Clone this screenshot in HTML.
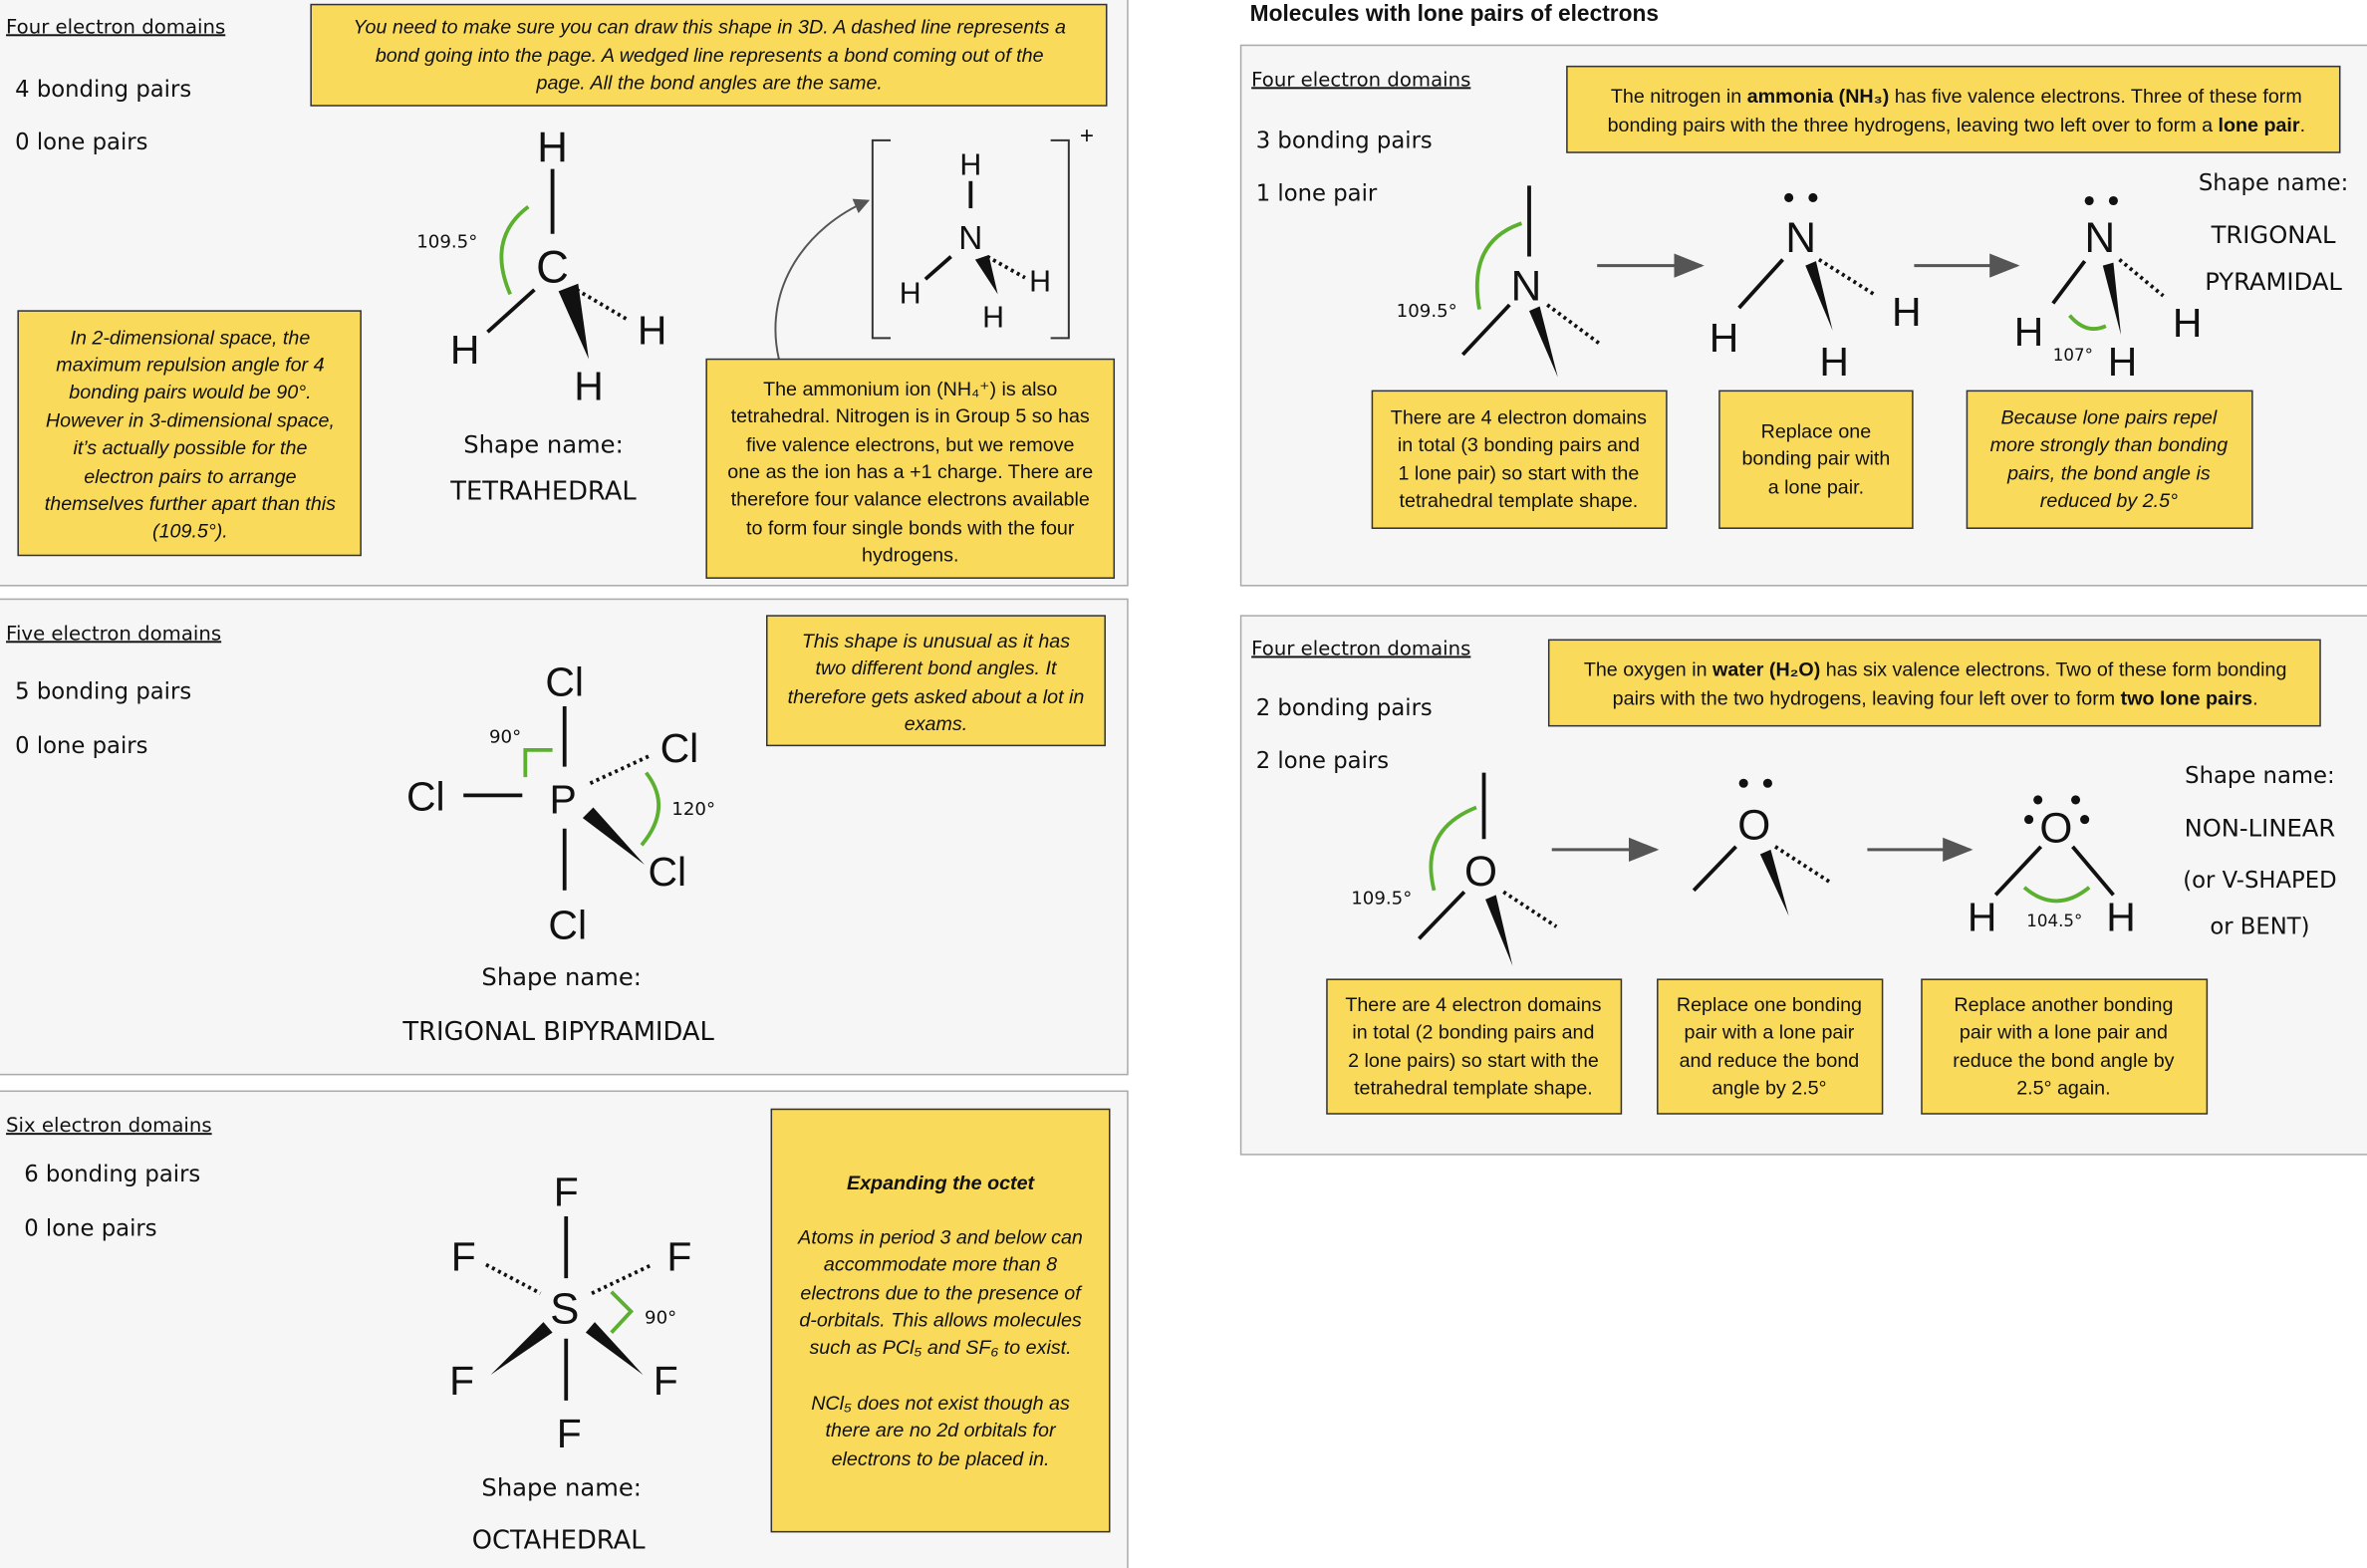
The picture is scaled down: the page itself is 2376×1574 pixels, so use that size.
<!DOCTYPE html>
<html><head><meta charset="utf-8"><style>
html,body{margin:0;padding:0;background:#fff;}
svg{display:block}
.hw{font-family:"DejaVu Sans",sans-serif;font-weight:normal;fill:#111}
.t{font-family:"Liberation Sans",sans-serif;font-size:13px;fill:#111;text-anchor:middle}
.i{font-style:italic}
.at{font-family:"Liberation Sans",sans-serif;fill:#111;text-anchor:middle}
.yb{fill:#f9da5a;stroke:#333;stroke-width:1}
.pn{fill:#f6f6f6;stroke:#aaa;stroke-width:1}
.b{stroke:#111;stroke-width:2.5;fill:none}
.d{stroke:#111;stroke-width:2.5;stroke-dasharray:2 2.5;fill:none}
.g{stroke:#5bb030;stroke-width:2.5;fill:none}
</style></head><body>
<svg width="2376" height="1574" viewBox="0 0 1568 1039" preserveAspectRatio="none" xmlns="http://www.w3.org/2000/svg">
<defs><marker id="ah" markerWidth="10" markerHeight="10" refX="9" refY="5" orient="auto"><path d="M0,1 L10,5 L0,9 z" fill="#555"/></marker>
<marker id="ah2" markerWidth="8" markerHeight="8" refX="7" refY="4" orient="auto"><path d="M0,0 L8,4 L0,8 z" fill="#555"/></marker></defs>
<rect width="1568" height="1039" fill="#fff"/>
<rect class="pn" x="-1" y="-1" width="748" height="389"/>
<rect class="pn" x="-1" y="397" width="748" height="315"/>
<rect class="pn" x="-1" y="723" width="748" height="320"/>
<rect class="pn" x="822" y="30" width="750" height="358"/>
<rect class="pn" x="822" y="408" width="750" height="357"/>
<text x="828" y="14" font-family="Liberation Sans,sans-serif" font-size="15" font-weight="bold" fill="#111">Molecules with lone pairs of electrons</text>

<text class="hw" x="4" y="22" font-size="13" text-decoration="underline">Four electron domains</text>
<text class="hw" x="10" y="64" font-size="15">4 bonding pairs</text>
<text class="hw" x="10" y="99" font-size="15">0 lone pairs</text>
<rect class="yb" x="206" y="3" width="527" height="67"/>
<text class="t i" x="470" y="22">You need to make sure you can draw this shape in 3D. A dashed line represents a</text>
<text class="t i" x="470" y="41">bond going into the page. A wedged line represents a bond coming out of the</text>
<text class="t i" x="470" y="59">page. All the bond angles are the same.</text>
<text class="at" x="366" y="107" font-size="28">H</text>
<line class="b" x1="366" y1="112" x2="366" y2="155"/>
<text class="at" x="366" y="187" font-size="30">C</text>
<line class="b" x1="354" y1="192" x2="323" y2="220"/>
<line class="d" x1="382" y1="192" x2="416" y2="212"/>
<path d="M370,193 L383,188 L390,238 z" fill="#111"/>
<text class="at" x="308" y="241" font-size="27">H</text>
<text class="at" x="432" y="228" font-size="27">H</text>
<text class="at" x="390" y="265" font-size="27">H</text>
<path class="g" d="M350,137 Q322,158 338,195"/>
<text class="hw" x="276" y="164" font-size="12">109.5°</text>
<text class="hw" x="360" y="300" font-size="16" text-anchor="middle">Shape name:</text>
<text class="hw" x="360" y="331" font-size="17" text-anchor="middle">TETRAHEDRAL</text>
<rect class="yb" x="12" y="206" width="227" height="162"/>
<g class="t i">
<text x="126" y="228">In 2-dimensional space, the</text>
<text x="126" y="246">maximum repulsion angle for 4</text>
<text x="126" y="264">bonding pairs would be 90°.</text>
<text x="126" y="283">However in 3-dimensional space,</text>
<text x="126" y="301">it’s actually possible for the</text>
<text x="126" y="320">electron pairs to arrange</text>
<text x="126" y="338">themselves further apart than this</text>
<text x="126" y="356">(109.5°).</text></g>
<path d="M590,93 L578,93 L578,224 L590,224 M696,93 L708,93 L708,224 L696,224" stroke="#333" stroke-width="1.3" fill="none"/>
<text class="at" x="720" y="95" font-size="16">+</text>
<text class="at" x="643" y="116" font-size="20">H</text>
<line class="b" x1="643" y1="120" x2="643" y2="138"/>
<text class="at" x="643" y="165" font-size="22">N</text>
<line class="b" x1="630" y1="170" x2="613" y2="185"/>
<line class="d" x1="654" y1="170" x2="679" y2="184"/>
<path d="M646,172 L655,169 L661,195 z" fill="#111"/>
<text class="at" x="603" y="201" font-size="20">H</text>
<text class="at" x="689" y="193" font-size="20">H</text>
<text class="at" x="658" y="217" font-size="20">H</text>
<path d="M516,238 C505,190 535,150 575,133" stroke="#555" stroke-width="1.3" fill="none" marker-end="url(#ah2)"/>
<rect class="yb" x="468" y="238" width="270" height="145"/>
<g class="t">
<text x="603" y="262">The ammonium ion (NH₄⁺) is also</text>
<text x="603" y="280">tetrahedral. Nitrogen is in Group 5 so has</text>
<text x="603" y="299">five valence electrons, but we remove</text>
<text x="603" y="317">one as the ion has a +1 charge. There are</text>
<text x="603" y="335">therefore four valance electrons available</text>
<text x="603" y="354">to form four single bonds with the four</text>
<text x="603" y="372">hydrogens.</text></g>

<text class="hw" x="4" y="424" font-size="13" text-decoration="underline">Five electron domains</text>
<text class="hw" x="10" y="463" font-size="15">5 bonding pairs</text>
<text class="hw" x="10" y="499" font-size="15">0 lone pairs</text>
<text class="at" x="374" y="461" font-size="27">Cl</text>
<line class="b" x1="374" y1="468" x2="374" y2="508"/>
<text class="at" x="373" y="539" font-size="27">P</text>
<text class="at" x="282" y="537" font-size="27">Cl</text>
<line class="b" x1="307" y1="527" x2="346" y2="527"/>
<line class="d" x1="391" y1="519" x2="430" y2="501"/>
<text class="at" x="450" y="505" font-size="27">Cl</text>
<path d="M386,542 L393,535 L427,573 z" fill="#111"/>
<text class="at" x="442" y="587" font-size="27">Cl</text>
<line class="b" x1="374" y1="549" x2="374" y2="590"/>
<text class="at" x="376" y="622" font-size="27">Cl</text>
<path class="g" d="M348,515 L348,497 L366,497"/>
<text class="hw" x="324" y="492" font-size="12">90°</text>
<path class="g" d="M428,512 Q446,535 425,560"/>
<text class="hw" x="445" y="540" font-size="12">120°</text>
<text class="hw" x="372" y="653" font-size="16" text-anchor="middle">Shape name:</text>
<text class="hw" x="370" y="689" font-size="17" text-anchor="middle">TRIGONAL BIPYRAMIDAL</text>
<rect class="yb" x="508" y="408" width="224" height="86"/>
<g class="t i">
<text x="620" y="429">This shape is unusual as it has</text>
<text x="620" y="447">two different bond angles. It</text>
<text x="620" y="466">therefore gets asked about a lot in</text>
<text x="620" y="484">exams.</text></g>

<text class="hw" x="4" y="750" font-size="13" text-decoration="underline">Six electron domains</text>
<text class="hw" x="16" y="783" font-size="15">6 bonding pairs</text>
<text class="hw" x="16" y="819" font-size="15">0 lone pairs</text>
<text class="at" x="375" y="799" font-size="27">F</text>
<line class="b" x1="375" y1="806" x2="375" y2="847"/>
<text class="at" x="374" y="877" font-size="29">S</text>
<text class="at" x="307" y="842" font-size="27">F</text>
<line class="d" x1="322" y1="838" x2="358" y2="857"/>
<text class="at" x="450" y="842" font-size="27">F</text>
<line class="d" x1="392" y1="857" x2="432" y2="838"/>
<path d="M360,876 L366,883 L325,911 z" fill="#111"/>
<text class="at" x="306" y="924" font-size="27">F</text>
<path d="M388,883 L394,876 L426,911 z" fill="#111"/>
<text class="at" x="441" y="924" font-size="27">F</text>
<line class="b" x1="375" y1="887" x2="375" y2="928"/>
<text class="at" x="377" y="959" font-size="27">F</text>
<path class="g" d="M405,856 L418,869 L405,883"/>
<text class="hw" x="427" y="877" font-size="12">90°</text>
<text class="hw" x="372" y="991" font-size="16" text-anchor="middle">Shape name:</text>
<text class="hw" x="370" y="1026" font-size="17" text-anchor="middle">OCTAHEDRAL</text>
<rect class="yb" x="511" y="735" width="224" height="280"/>
<g class="t i">
<text x="623" y="788" font-weight="bold">Expanding the octet</text>
<text x="623" y="824">Atoms in period 3 and below can</text>
<text x="623" y="842">accommodate more than 8</text>
<text x="623" y="861">electrons due to the presence of</text>
<text x="623" y="879">d-orbitals. This allows molecules</text>
<text x="623" y="897">such as PCl₅ and SF₆ to exist.</text>
<text x="623" y="934">NCl₅ does not exist though as</text>
<text x="623" y="952">there are no 2d orbitals for</text>
<text x="623" y="971">electrons to be placed in.</text></g>

<text class="hw" x="829" y="57" font-size="13" text-decoration="underline">Four electron domains</text>
<text class="hw" x="832" y="98" font-size="15">3 bonding pairs</text>
<text class="hw" x="832" y="133" font-size="15">1 lone pair</text>
<rect class="yb" x="1038" y="44" width="512" height="57"/>
<text class="t" x="1296" y="68">The nitrogen in <tspan font-weight="bold">ammonia (NH₃)</tspan> has five valence electrons. Three of these form</text>
<text class="t" x="1296" y="87">bonding pairs with the three hydrogens, leaving two left over to form a <tspan font-weight="bold">lone pair</tspan>.</text>
<line class="b" x1="1013" y1="123" x2="1013" y2="170"/>
<text class="at" x="1011" y="199" font-size="28">N</text>
<line class="b" x1="1000" y1="202" x2="969" y2="235"/>
<line class="d" x1="1025" y1="202" x2="1060" y2="228"/>
<path d="M1013,206 L1020,203 L1032,250 z" fill="#111"/>
<path class="g" d="M1008,148 Q972,160 980,205"/>
<text class="hw" x="925" y="210" font-size="12">109.5°</text>
<line x1="1058" y1="176" x2="1127" y2="176" stroke="#555" stroke-width="2" marker-end="url(#ah)"/>
<circle cx="1185" cy="131" r="3" fill="#111"/><circle cx="1201" cy="131" r="3" fill="#111"/>
<text class="at" x="1193" y="167" font-size="28">N</text>
<line class="b" x1="1181" y1="172" x2="1152" y2="204"/>
<line class="d" x1="1205" y1="172" x2="1243" y2="196"/>
<path d="M1196,176 L1203,173 L1214,219 z" fill="#111"/>
<text class="at" x="1142" y="233" font-size="27">H</text>
<text class="at" x="1263" y="216" font-size="27">H</text>
<text class="at" x="1215" y="249" font-size="27">H</text>
<line x1="1268" y1="176" x2="1336" y2="176" stroke="#555" stroke-width="2" marker-end="url(#ah)"/>
<circle cx="1384" cy="133" r="3" fill="#111"/><circle cx="1400" cy="133" r="3" fill="#111"/>
<text class="at" x="1391" y="167" font-size="28">N</text>
<line class="b" x1="1381" y1="173" x2="1360" y2="201"/>
<line class="d" x1="1404" y1="172" x2="1433" y2="196"/>
<path d="M1393,176 L1400,174 L1405,222 z" fill="#111"/>
<text class="at" x="1344" y="229" font-size="27">H</text>
<text class="at" x="1449" y="223" font-size="27">H</text>
<text class="at" x="1406" y="249" font-size="27">H</text>
<path class="g" d="M1371,209 Q1382,222 1395,216"/>
<text class="hw" x="1360" y="239" font-size="11">107°</text>
<text class="hw" x="1506" y="126" font-size="15" text-anchor="middle">Shape name:</text>
<text class="hw" x="1506" y="161" font-size="16" text-anchor="middle">TRIGONAL</text>
<text class="hw" x="1506" y="192" font-size="16" text-anchor="middle">PYRAMIDAL</text>
<rect class="yb" x="909" y="259" width="195" height="91"/>
<g class="t"><text x="1006" y="281">There are 4 electron domains</text>
<text x="1006" y="299">in total (3 bonding pairs and</text>
<text x="1006" y="318">1 lone pair) so start with the</text>
<text x="1006" y="336">tetrahedral template shape.</text></g>
<rect class="yb" x="1139" y="259" width="128" height="91"/>
<g class="t"><text x="1203" y="290">Replace one</text>
<text x="1203" y="308">bonding pair with</text>
<text x="1203" y="327">a lone pair.</text></g>
<rect class="yb" x="1303" y="259" width="189" height="91"/>
<g class="t i"><text x="1397" y="281">Because lone pairs repel</text>
<text x="1397" y="299">more strongly than bonding</text>
<text x="1397" y="318">pairs, the bond angle is</text>
<text x="1397" y="336">reduced by 2.5°</text></g>

<text class="hw" x="829" y="434" font-size="13" text-decoration="underline">Four electron domains</text>
<text class="hw" x="832" y="474" font-size="15">2 bonding pairs</text>
<text class="hw" x="832" y="509" font-size="15">2 lone pairs</text>
<rect class="yb" x="1026" y="424" width="511" height="57"/>
<text class="t" x="1282" y="448">The oxygen in <tspan font-weight="bold">water (H₂O)</tspan> has six valence electrons. Two of these form bonding</text>
<text class="t" x="1282" y="467">pairs with the two hydrogens, leaving four left over to form <tspan font-weight="bold">two lone pairs</tspan>.</text>
<line class="b" x1="983" y1="512" x2="983" y2="556"/>
<text class="at" x="981" y="587" font-size="28">O</text>
<line class="b" x1="970" y1="591" x2="940" y2="622"/>
<line class="d" x1="996" y1="591" x2="1031" y2="614"/>
<path d="M984,596 L991,593 L1002,640 z" fill="#111"/>
<path class="g" d="M978,535 Q940,550 950,590"/>
<text class="hw" x="895" y="599" font-size="12">109.5°</text>
<line x1="1028" y1="563" x2="1097" y2="563" stroke="#555" stroke-width="2" marker-end="url(#ah)"/>
<circle cx="1155" cy="519" r="3" fill="#111"/><circle cx="1171" cy="519" r="3" fill="#111"/>
<text class="at" x="1162" y="556" font-size="28">O</text>
<line class="b" x1="1150" y1="561" x2="1122" y2="590"/>
<line class="d" x1="1176" y1="561" x2="1213" y2="585"/>
<path d="M1166,566 L1173,563 L1185,607 z" fill="#111"/>
<line x1="1237" y1="563" x2="1305" y2="563" stroke="#555" stroke-width="2" marker-end="url(#ah)"/>
<text class="at" x="1362" y="558" font-size="28">O</text>
<circle cx="1350" cy="530" r="3" fill="#111"/><circle cx="1344" cy="543" r="3" fill="#111"/>
<circle cx="1375" cy="530" r="3" fill="#111"/><circle cx="1381" cy="543" r="3" fill="#111"/>
<line class="b" x1="1352" y1="561" x2="1322" y2="593"/>
<line class="b" x1="1373" y1="561" x2="1400" y2="593"/>
<text class="at" x="1313" y="617" font-size="27">H</text>
<text class="at" x="1405" y="617" font-size="27">H</text>
<path class="g" d="M1341,588 Q1362,606 1384,588"/>
<text class="hw" x="1361" y="614" font-size="11" text-anchor="middle">104.5°</text>
<text class="hw" x="1497" y="519" font-size="15" text-anchor="middle">Shape name:</text>
<text class="hw" x="1497" y="554" font-size="16" text-anchor="middle">NON-LINEAR</text>
<text class="hw" x="1497" y="588" font-size="15" text-anchor="middle">(or V-SHAPED</text>
<text class="hw" x="1497" y="619" font-size="15" text-anchor="middle">or BENT)</text>
<rect class="yb" x="879" y="649" width="195" height="89"/>
<g class="t"><text x="976" y="670">There are 4 electron domains</text>
<text x="976" y="688">in total (2 bonding pairs and</text>
<text x="976" y="707">2 lone pairs) so start with the</text>
<text x="976" y="725">tetrahedral template shape.</text></g>
<rect class="yb" x="1098" y="649" width="149" height="89"/>
<g class="t"><text x="1172" y="670">Replace one bonding</text>
<text x="1172" y="688">pair with a lone pair</text>
<text x="1172" y="707">and reduce the bond</text>
<text x="1172" y="725">angle by 2.5°</text></g>
<rect class="yb" x="1273" y="649" width="189" height="89"/>
<g class="t"><text x="1367" y="670">Replace another bonding</text>
<text x="1367" y="688">pair with a lone pair and</text>
<text x="1367" y="707">reduce the bond angle by</text>
<text x="1367" y="725">2.5° again.</text></g>
</svg>
</body></html>
